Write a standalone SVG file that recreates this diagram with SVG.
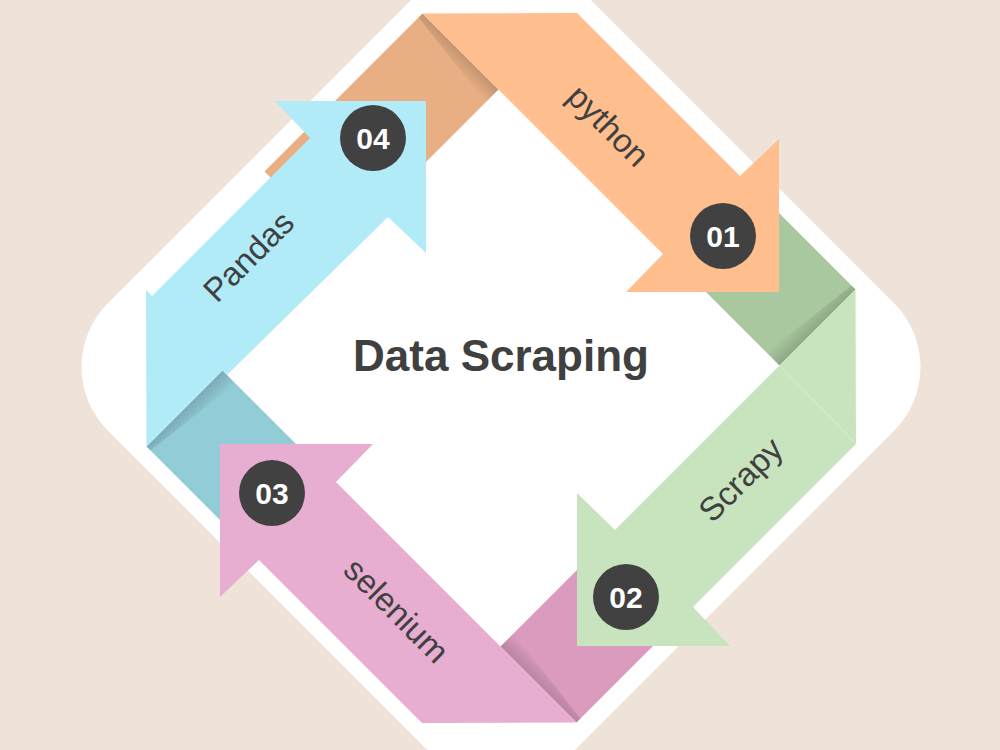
<svg xmlns="http://www.w3.org/2000/svg" width="1000" height="750" viewBox="0 0 1000 750">
<defs>
<style>
.lbl{font-family:"Liberation Sans",Arial,sans-serif;font-size:33px;fill:#404040;text-anchor:middle}
.num{font-family:"Liberation Sans",Arial,sans-serif;font-size:30px;font-weight:bold;fill:#ffffff;text-anchor:middle}
.badge{fill:#414141}
.title{font-family:"Liberation Sans",Arial,sans-serif;font-size:44px;font-weight:bold;fill:#404040;text-anchor:middle}
</style>
<linearGradient id="shO" gradientUnits="userSpaceOnUse" x1="498.5" y1="89.5" x2="485.5" y2="102.5"><stop offset="0" stop-color="#000" stop-opacity="0.16"/><stop offset="1" stop-color="#000" stop-opacity="0"/></linearGradient>
<linearGradient id="shG" gradientUnits="userSpaceOnUse" x1="779.5" y1="365.5" x2="766.5" y2="352.5"><stop offset="0" stop-color="#000" stop-opacity="0.16"/><stop offset="1" stop-color="#000" stop-opacity="0"/></linearGradient>
<linearGradient id="shP" gradientUnits="userSpaceOnUse" x1="500.5" y1="646.5" x2="513.5" y2="633.5"><stop offset="0" stop-color="#000" stop-opacity="0.16"/><stop offset="1" stop-color="#000" stop-opacity="0"/></linearGradient>
<linearGradient id="shT" gradientUnits="userSpaceOnUse" x1="222.5" y1="370.5" x2="235.5" y2="383.5"><stop offset="0" stop-color="#000" stop-opacity="0.16"/><stop offset="1" stop-color="#000" stop-opacity="0"/></linearGradient>
</defs>
<rect width="1000" height="750" fill="#EEE2D9"/>
<rect x="-323" y="-323" width="646" height="646" rx="90" transform="translate(501,367) rotate(45)" fill="#ffffff"/>

<g id="folds">
<polygon points="422.5,13.5 498.5,89.5 340.5,247.5 264.5,171.5" fill="#E8AF84"/>
<polygon points="855.5,289.5 779.5,365.5 672,258 748,182" fill="#A9C89F"/>
<polygon points="576.5,722.5 500.5,646.5 658.5,488.5 734.5,564.5" fill="#DB9BBF"/>
<polygon points="146.5,446.5 222.5,370.5 380.5,528.5 304.5,604.5" fill="#91CCD7"/>
<polygon points="422.5,13.5 498.5,89.5 485.5,102.5 418.5,17.5" fill="url(#shO)"/>
<polygon points="855.5,289.5 779.5,365.5 766.5,352.5 851.5,285.5" fill="url(#shG)"/>
<polygon points="576.5,722.5 500.5,646.5 513.5,633.5 580.5,718.5" fill="url(#shP)"/>
<polygon points="146.5,446.5 222.5,370.5 235.5,383.5 150.5,450.5" fill="url(#shT)"/>
</g>

<g id="node-python">
<polygon points="422.5,13.5 577,13 740,176 779,139 779,292 626,292 663,254" fill="#FEBE8E"/>
<text class="lbl" transform="translate(606,128) rotate(45)" x="0" y="8">python</text>
<circle class="badge" cx="723" cy="236" r="33"/>
<text class="num" x="723" y="247">01</text>
</g>

<g id="node-scrapy">
<polygon points="855.5,289.5 856,444 693,607 730,646 577,646 577,493 615,530" fill="#C8E4BF"/>
<line x1="779.5" y1="365.5" x2="856" y2="444" stroke="#ffffff" stroke-opacity="0.3" stroke-width="1"/>
<text class="lbl" transform="translate(743,482) rotate(-45)" x="0" y="8">Scrapy</text>
<circle class="badge" cx="626" cy="597" r="33"/>
<text class="num" x="626" y="608">02</text>
</g>

<g id="node-selenium">
<polygon points="576.5,722.5 422,723 259,560 220,597 220,444 373,444 336,482" fill="#E7AED1"/>
<text class="lbl" transform="translate(397,610) rotate(45)" x="0" y="12">selenium</text>
<circle class="badge" cx="272" cy="493" r="33"/>
<text class="num" x="272" y="504">03</text>
</g>

<g id="node-pandas">
<polygon points="146.5,446.5 146,290 152,296 310,138 275,101 426,101 426,253 388,217 227,375 222.5,370.5" fill="#B1EBF7"/>
<text class="lbl" transform="translate(248,256) rotate(-45)" x="0" y="12">Pandas</text>
<circle class="badge" cx="373" cy="138" r="33"/>
<text class="num" x="373" y="149">04</text>
</g>

<g id="connectors"></g>

<g id="title">
<text class="title" x="501" y="371">Data Scraping</text>
</g>
</svg>
